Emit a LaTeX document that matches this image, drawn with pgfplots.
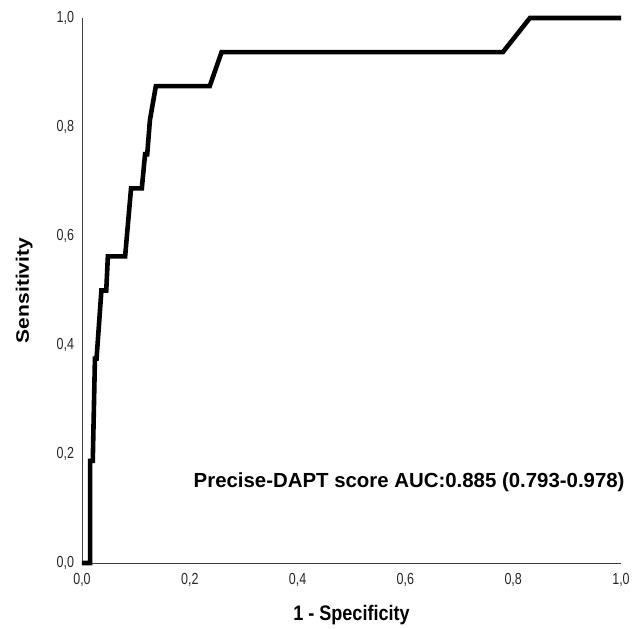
\documentclass[border=0pt]{standalone}
\usepackage{pgfplots}
\pgfplotsset{compat=1.18}
\usepackage{fontspec}
\setmainfont{Liberation Sans}

\begin{document}
\begin{tikzpicture}
\begin{axis}[
  scale only axis,
  width=539pt, height=545pt,
  xmin=0, xmax=1, ymin=0, ymax=1,
  axis lines=left,
  axis line style={-, line width=0.8pt, black!75},
  xtick={0,0.2,...,1}, ytick={0,0.2,...,1},
  major tick length=0pt,
  /pgf/number format/fixed,
  /pgf/number format/fixed zerofill,
  /pgf/number format/precision=1,
  /pgf/number format/use comma,
  /pgf/number format/assume math mode=true,
  tick label style={font=\fontsize{16}{18}\selectfont, text=black!85, xscale=0.78, inner sep=0pt},
  x tick label style={anchor=north, yshift=-10pt},
  y tick label style={anchor=east, xshift=-10pt},
  xlabel={\bfseries 1 - Specificity},
  ylabel={\bfseries Sensitivity},
  xlabel style={font=\fontsize{21}{24}\selectfont, xscale=0.86, at={(axis description cs:0.5,-0.095)}, anchor=center},
  ylabel style={font=\fontsize{21}{24}\selectfont, yscale=0.86, at={(axis description cs:-0.107,0.5)}, anchor=center},
  clip=false,
]
\addplot[black, line width=4.6pt, line join=miter] coordinates {
 (0,0) (0.015,0) (0.015,0.1875) (0.020,0.1875) (0.024,0.375) (0.027,0.375)
 (0.036,0.5) (0.045,0.5) (0.048,0.5625) (0.080,0.5625) (0.091,0.6875)
 (0.111,0.6875) (0.117,0.75) (0.121,0.75) (0.126,0.8125) (0.137,0.875)
 (0.237,0.875) (0.259,0.9375) (0.781,0.9375) (0.831,1) (1,1)};
\node[font=\fontsize{20.4}{23}\selectfont\bfseries] at (axis cs:0.607,0.149)
  {Precise-DAPT score AUC:0.885 (0.793-0.978)};
\end{axis}
\pgfresetboundingbox
\path[use as bounding box] (-82pt,-66pt) rectangle (553pt,563pt);
\end{tikzpicture}
\end{document}
